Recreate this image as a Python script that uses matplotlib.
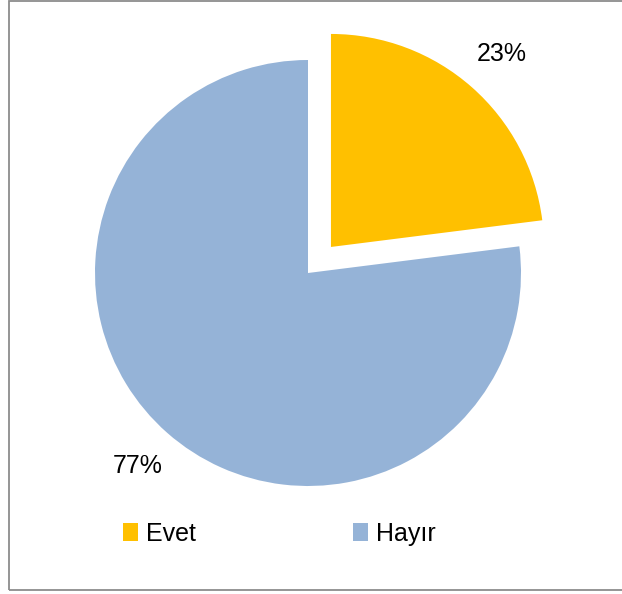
import matplotlib
matplotlib.use("Agg")
import matplotlib.pyplot as plt
from matplotlib.patches import Rectangle

categories = ["Evet", "Hayır"]
values = [23, 77]
colors = ["#FFC000", "#95B3D7"]
explode_frac = [0.163, 0.0]

plt.rcParams['font.family'] = ['Liberation Sans', 'DejaVu Sans']

W, H = 622, 594
fig = plt.figure(figsize=(W / 100, H / 100), dpi=100)
ax = fig.add_axes([0, 0, 1, 1])

cx, cy, r = 308, H - 273, 213
explode = [e * r for e in explode_frac]
wedges, texts, autotexts = ax.pie(
    values, colors=colors, explode=explode, startangle=90, counterclock=False,
    center=(cx, cy), radius=r, autopct='%1.0f%%', pctdistance=1.21,
    wedgeprops=dict(linewidth=0), textprops=dict(fontsize=18, color='black'))
ax.set_xlim(0, W)
ax.set_ylim(0, H)
ax.set_aspect('equal')
ax.axis('off')

leg = fig.legend(wedges, categories, loc='center', ncol=2,
                 bbox_to_anchor=(279.5 / W, 1 - 534 / H), frameon=False,
                 fontsize=18, handlelength=0.6, handleheight=0.72,
                 handletextpad=0.32, columnspacing=6.3, borderpad=0)

fig.add_artist(Rectangle((8.5 / W, 4 / H), 1.0, 589.5 / H, transform=fig.transFigure,
                         fill=False, edgecolor='#8c8c8c', linewidth=1.3))

fig.savefig("out.png", dpi=100)
